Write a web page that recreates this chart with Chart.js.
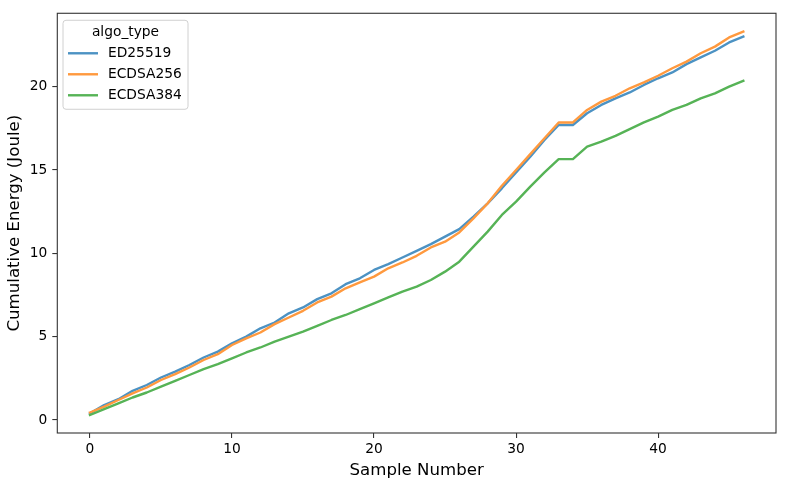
<!DOCTYPE html>
<html>
<head>
<meta charset="utf-8">
<script src="https://cdn.jsdelivr.net/npm/chart.js@4/dist/chart.umd.min.js"></script>
<style>
  html, body { margin: 0; padding: 0; background: #ffffff; }
  #wrap { width: 787px; height: 486px; }
</style>
</head>
<body>
<div id="wrap"><canvas id="c" width="787" height="486"></canvas></div>
<script>
const sampleNumbers = [0,1,2,3,4,5,6,7,8,9,10,11,12,13,14,15,16,17,18,19,20,21,22,23,24,25,26,27,28,29,30,31,32,33,34,35,36,37,38,39,40,41,42,43,44,45,46];

const ed25519 = [0.40,0.90,1.25,1.75,2.10,2.55,2.90,3.30,3.75,4.10,4.60,5.00,5.50,5.85,6.40,6.75,7.25,7.60,8.15,8.50,9.00,9.35,9.75,10.15,10.55,11.00,11.45,12.20,13.00,13.90,14.85,15.80,16.80,17.70,17.70,18.40,18.90,19.30,19.65,20.10,20.50,20.85,21.35,21.75,22.15,22.65,23.00];

const ecdsa256 = [0.45,0.80,1.20,1.60,1.95,2.40,2.75,3.15,3.60,3.95,4.50,4.90,5.25,5.75,6.15,6.55,7.05,7.40,7.90,8.25,8.60,9.10,9.45,9.85,10.35,10.70,11.25,12.10,13.00,14.05,15.00,15.95,16.90,17.85,17.85,18.60,19.10,19.45,19.90,20.25,20.65,21.10,21.50,22.00,22.40,22.95,23.30];

const ecdsa384 = [0.30,0.65,1.00,1.35,1.65,2.00,2.35,2.70,3.05,3.35,3.70,4.05,4.35,4.70,5.00,5.30,5.65,6.00,6.30,6.65,7.00,7.35,7.70,8.00,8.40,8.90,9.50,10.40,11.30,12.30,13.10,14.00,14.85,15.65,15.65,16.40,16.70,17.05,17.45,17.85,18.20,18.60,18.90,19.30,19.60,20.00,20.35];

const seriesNames = ['ED25519', 'ECDSA256', 'ECDSA384'];
const legendTitle = 'algo_type';
const xTickValues = [0, 10, 20, 30, 40];
const yTickValues = [0, 5, 10, 15, 20];
const xAxisTitle = 'Sample Number';
const yAxisTitle = 'Cumulative Energy (Joule)';

const FONT = "'DejaVu Sans', 'Liberation Sans', sans-serif";
const colors = ['#4c92c3', '#ff993e', '#56b356'];

function pts(vals) { return sampleNumbers.map((s, i) => ({ x: s, y: vals[i] })); }

const seriesValues = [ed25519, ecdsa256, ecdsa384];
const datasets = seriesNames.map((name, k) => ({
  label: name,
  data: pts(seriesValues[k]),
  borderColor: colors[k],
  backgroundColor: colors[k],
  borderWidth: 2.4,
  pointRadius: 0,
  pointHoverRadius: 0,
  tension: 0,
  fill: false,
  borderJoinStyle: 'round',
  borderCapStyle: 'square',
  order: 3 - k
}));

const framePlugin = {
  id: 'frame',
  afterDraw(chart) {
    const { ctx, chartArea: a } = chart;
    ctx.save();
    ctx.strokeStyle = '#333333';
    ctx.lineWidth = 1.1;
    ctx.strokeRect(a.left, a.top, a.right - a.left, a.bottom - a.top);
    ctx.restore();
  }
};

const legendPlugin = {
  id: 'mplLegend',
  afterDatasetsDraw(chart) {
    const { ctx, chartArea: a } = chart;
    const x0 = a.left + 5.7, y0 = a.top + 7, w = 125, h = 89, r = 3;
    ctx.save();
    ctx.beginPath();
    ctx.moveTo(x0 + r, y0);
    ctx.arcTo(x0 + w, y0, x0 + w, y0 + h, r);
    ctx.arcTo(x0 + w, y0 + h, x0, y0 + h, r);
    ctx.arcTo(x0, y0 + h, x0, y0, r);
    ctx.arcTo(x0, y0, x0 + w, y0, r);
    ctx.closePath();
    ctx.fillStyle = 'rgba(255,255,255,0.8)';
    ctx.fill();
    ctx.strokeStyle = '#d0d0d0';
    ctx.lineWidth = 1;
    ctx.stroke();
    ctx.font = '13.8px ' + FONT;
    ctx.fillStyle = '#000';
    ctx.textBaseline = 'middle';
    ctx.textAlign = 'center';
    ctx.fillText(legendTitle, x0 + w / 2, y0 + 12.5);
    ctx.textAlign = 'left';
    chart.data.datasets.forEach((ds, i) => {
      const yy = y0 + 33 + i * 21;
      ctx.beginPath();
      ctx.strokeStyle = ds.borderColor;
      ctx.lineWidth = ds.borderWidth;
      ctx.lineCap = 'butt';
      ctx.moveTo(x0 + 5, yy);
      ctx.lineTo(x0 + 35, yy);
      ctx.stroke();
      ctx.fillText(ds.label, x0 + 45, yy);
    });
    ctx.restore();
  }
};

new Chart(document.getElementById('c'), {
  type: 'line',
  data: { datasets },
  options: {
    responsive: false,
    animation: false,
    devicePixelRatio: 1,
    layout: { padding: { left: 0, right: 11, top: 11, bottom: 0 } },
    plugins: {
      legend: { display: false },
      tooltip: { enabled: false },
      title: { display: false }
    },
    scales: {
      x: {
        type: 'linear',
        min: -2.3,
        max: 48.3,
        afterBuildTicks(axis) { axis.ticks = xTickValues.map(v => ({ value: v })); },
        afterFit(axis) { axis.height = 53; },
        grid: { display: true, drawOnChartArea: false, drawTicks: true, tickLength: 5, color: '#333333', lineWidth: 1.1 },
        border: { display: false },
        ticks: { color: '#000', font: { family: FONT, size: 13.8 }, padding: 3, maxRotation: 0, autoSkip: false },
        title: { display: true, text: xAxisTitle, color: '#000', font: { family: FONT, size: 16.6 }, padding: { top: 0, bottom: 5 } }
      },
      y: {
        type: 'linear',
        min: -0.78,
        max: 24.4,
        afterBuildTicks(axis) { axis.ticks = yTickValues.map(v => ({ value: v })); },
        afterFit(axis) { axis.width = 57.3; },
        grid: { display: true, drawOnChartArea: false, drawTicks: true, tickLength: 5, color: '#333333', lineWidth: 1.1 },
        border: { display: false },
        ticks: { color: '#000', font: { family: FONT, size: 13.8 }, padding: 5, autoSkip: false },
        title: { display: true, text: yAxisTitle, color: '#000', font: { family: FONT, size: 16.6 }, padding: { top: 5, bottom: 0 } }
      }
    }
  },
  plugins: [framePlugin, legendPlugin]
});
</script>
</body>
</html>
